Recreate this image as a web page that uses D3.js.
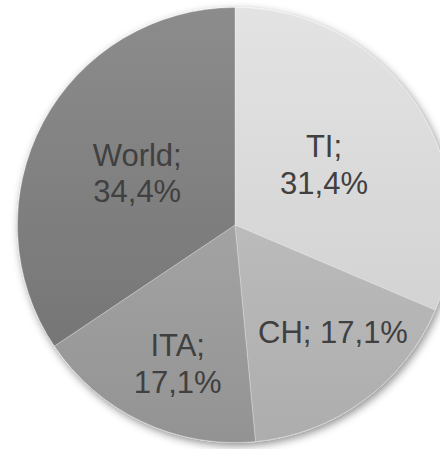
<!DOCTYPE html>
<html>
<head>
<meta charset="utf-8">
<script src="https://cdn.jsdelivr.net/npm/d3@7"></script>
<style>
  html, body { margin: 0; padding: 0; background: #ffffff; }
  svg { display: block; }
</style>
</head>
<body>
<svg id="chart" width="440" height="449"></svg>
<script>
// ---- data ----
const categories = ["TI", "CH", "ITA", "World"];
const values = [31.4, 17.1, 17.1, 34.4];
const labelTexts = ["31,4%", "17,1%", "17,1%", "34,4%"];

// ---- styling / layout (kept separate from data) ----
const colorsTop = ["#e3e3e3", "#bbbbbb", "#a3a3a3", "#8c8c8c"];
const colorsBottom = ["#d3d3d3", "#adadad", "#939393", "#767676"];
const labelRadius = [107.6, 145.1, 150, 110.7];
const labelAngleShift = [-0.012, -0.110, -0.051, -0.002];
const labelWrap = [true, false, true, true];

const width = 440, height = 449;
const cx = 235, cy = 225, radius = 217.5;

const svg = d3.select("#chart");
const defs = svg.append("defs");

const filter = defs.append("filter")
  .attr("id", "shadow")
  .attr("x", "-20%").attr("y", "-20%")
  .attr("width", "140%").attr("height", "140%");
filter.append("feDropShadow")
  .attr("dx", 2).attr("dy", 3)
  .attr("stdDeviation", 4)
  .attr("flood-color", "#000")
  .attr("flood-opacity", 0.45);

categories.forEach((c, i) => {
  const g = defs.append("linearGradient")
    .attr("id", "grad" + i)
    .attr("x1", 0).attr("y1", 0).attr("x2", 0).attr("y2", 1);
  g.append("stop").attr("offset", "0%").attr("stop-color", colorsTop[i]);
  g.append("stop").attr("offset", "100%").attr("stop-color", colorsBottom[i]);
});

const pie = d3.pie().sort(null).value(d => d)(values);
const arc = d3.arc().innerRadius(0).outerRadius(radius);

const g = svg.append("g").attr("transform", `translate(${cx},${cy})`);

g.append("g").attr("filter", "url(#shadow)")
  .selectAll("path")
  .data(pie)
  .join("path")
  .attr("d", arc)
  .attr("fill", (d, i) => `url(#grad${i})`)
  .attr("stroke", "rgba(255,255,255,0.35)")
  .attr("stroke-width", 0.8);

const fontSize = 31;
const lineH = 36.5;

const labels = g.append("g")
  .attr("font-family", "'Liberation Sans', Arial, sans-serif")
  .attr("font-size", fontSize)
  .attr("fill", "#404040")
  .attr("text-anchor", "middle");

pie.forEach((d, i) => {
  const a = (d.startAngle + d.endAngle) / 2 + labelAngleShift[i];
  const x = Math.sin(a) * labelRadius[i];
  const y = -Math.cos(a) * labelRadius[i];
  const t = labels.append("text").attr("x", x).attr("y", y);
  if (labelWrap[i]) {
    t.append("tspan").attr("x", x).attr("dy", -lineH / 2 + fontSize * 0.35)
      .text(categories[i] + ";");
    t.append("tspan").attr("x", x).attr("dy", lineH)
      .text(labelTexts[i]);
  } else {
    t.attr("dy", fontSize * 0.35).text(categories[i] + "; " + labelTexts[i]);
  }
});
</script>
</body>
</html>
